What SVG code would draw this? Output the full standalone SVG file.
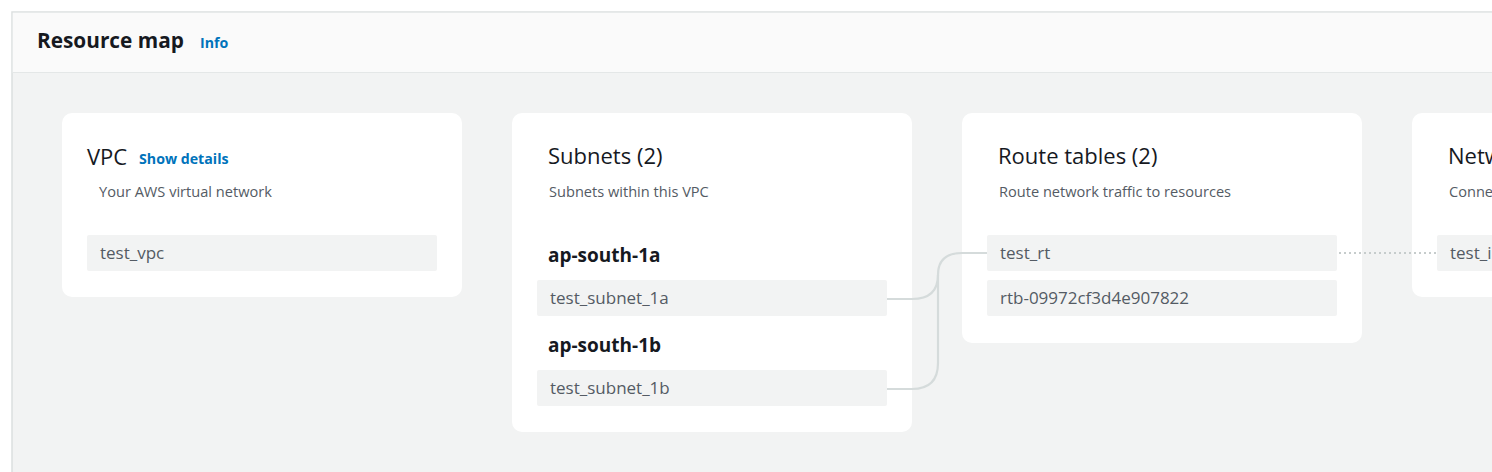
<svg xmlns="http://www.w3.org/2000/svg" width="1492" height="472" viewBox="0 0 1492 472">
<style>
.card{fill:#ffffff}
.item{fill:#f2f3f3}
.title{font-family:"Open Sans","Noto Sans",sans-serif;font-size:22px;fill:#16191f}
.sub{font-family:"Open Sans","Noto Sans",sans-serif;font-size:14.6px;fill:#545b64}
.link{font-family:"Open Sans","Noto Sans",sans-serif;font-size:14.2px;font-weight:700;fill:#0073bb}
.itxt{font-family:"Open Sans","Noto Sans",sans-serif;font-size:17px;fill:#545b64}
.az{font-family:"Open Sans","Noto Sans",sans-serif;font-size:19px;font-weight:700;fill:#16191f}
.conn{fill:none;stroke:#d5dbdb;stroke-width:2.2}
.dot{fill:none;stroke:#c6cccc;stroke-width:2;stroke-dasharray:2 3}
</style>
<rect x="0" y="0" width="1492" height="472" fill="#ffffff"/>
<g id="panel">
<rect x="12" y="12" width="1490" height="470" fill="#f2f3f3" stroke="#dcdfe0" stroke-width="1.5"/>
<rect x="12.75" y="12.75" width="1490" height="59.5" fill="#fafafa"/>
<line x1="12" y1="72.5" x2="1492" y2="72.5" stroke="#e4e7e7" stroke-width="1"/>
<text x="37" y="48" font-family="'Open Sans','Noto Sans',sans-serif" font-size="20.8" font-weight="700" fill="#16191f">Resource map</text>
<text x="200" y="48" class="link">Info</text>
</g>
<g id="vpc">
<rect class="card" x="62" y="113" width="400" height="184" rx="10"/>
<text x="87" y="165" class="title">VPC</text>
<text x="139" y="164" class="link">Show details</text>
<text x="99" y="197" class="sub">Your AWS virtual network</text>
<rect class="item" x="87" y="235" width="350" height="36" rx="2"/>
<text x="100" y="259" class="itxt">test_vpc</text>
</g>
<g id="subnets">
<rect class="card" x="512" y="113" width="400" height="319" rx="10"/>
<text x="548" y="164" class="title">Subnets (2)</text>
<text x="549" y="197" class="sub">Subnets within this VPC</text>
<text x="548" y="262" class="az">ap-south-1a</text>
<rect class="item" x="537" y="280" width="350" height="36" rx="2"/>
<text x="550" y="304" class="itxt">test_subnet_1a</text>
<text x="548" y="352" class="az">ap-south-1b</text>
<rect class="item" x="537" y="370" width="350" height="36" rx="2"/>
<text x="550" y="394" class="itxt">test_subnet_1b</text>
</g>
<g id="route-tables">
<rect class="card" x="962" y="113" width="400" height="230" rx="10"/>
<text x="998" y="164" class="title">Route tables (2)</text>
<text x="999" y="197" class="sub">Route network traffic to resources</text>
<rect class="item" x="987" y="235" width="350" height="36" rx="2"/>
<text x="1000" y="259" class="itxt">test_rt</text>
<rect class="item" x="987" y="280" width="350" height="36" rx="2"/>
<text x="1000" y="304" class="itxt">rtb-09972cf3d4e907822</text>
</g>
<g id="network">
<rect class="card" x="1412" y="113" width="400" height="184" rx="10"/>
<text x="1448" y="164" class="title">Netw</text>
<text x="1449" y="197" class="sub">Conne</text>
<rect class="item" x="1437" y="235" width="350" height="36" rx="2"/>
<text x="1450" y="259" class="itxt">test_i</text>
</g>
<g id="connectors">
<path class="conn" d="M887 299 H912 Q938 299 938 275 Q938 253 962 253 H987"/>
<path class="conn" d="M887 389 H912 Q938 389 938 363 V275"/>
<line class="dot" x1="1339" y1="253" x2="1437" y2="253"/>
</g>
</svg>
